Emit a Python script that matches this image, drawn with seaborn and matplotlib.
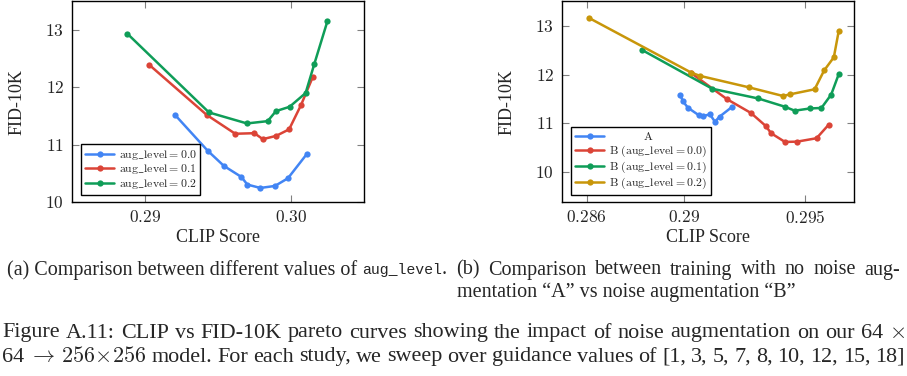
import matplotlib
matplotlib.use("Agg")
import pandas as pd
import seaborn as sns
from matplotlib import pyplot as plt

sns.set_style("ticks")
plt.rcParams['font.family'] = ['Liberation Serif', 'DejaVu Serif']
plt.rcParams['mathtext.fontset'] = 'cm'

# (a) different aug_level values
clip_a00 = [0.29205, 0.29427, 0.29538, 0.29658, 0.29699, 0.29788, 0.29888, 0.29977, 0.30107]
fid_a00 = [11.515, 10.895, 10.63, 10.437, 10.304, 10.245, 10.28, 10.414, 10.839]
clip_a01 = [0.29026, 0.2942, 0.29616, 0.29747, 0.29805, 0.29896, 0.29985, 0.30067, 0.30147]
fid_a01 = [12.394, 11.52, 11.19, 11.20, 11.096, 11.153, 11.267, 11.693, 12.18]
clip_a02 = [0.28877, 0.29436, 0.29696, 0.29838, 0.29895, 0.29988, 0.30098, 0.30158, 0.30247]
fid_a02 = [12.935, 11.562, 11.37, 11.41, 11.585, 11.66, 11.90, 12.41, 13.15]
labels_a = [r'$\mathrm{aug\_level} = 0.0$', r'$\mathrm{aug\_level} = 0.1$', r'$\mathrm{aug\_level} = 0.2$']

# (b) no noise aug "A" vs noise aug "B"
clip_A = [0.28985, 0.28996, 0.29017, 0.29063, 0.29078, 0.29107, 0.29128, 0.29147, 0.29198]
fid_A = [11.588, 11.453, 11.32, 11.162, 11.146, 11.187, 11.033, 11.138, 11.336]
clip_B00 = [0.29028, 0.29178, 0.29276, 0.29337, 0.29359, 0.29416, 0.29466, 0.29546, 0.29596]
fid_B00 = [12.038, 11.494, 11.213, 10.947, 10.798, 10.62, 10.626, 10.696, 10.974]
clip_B01 = [0.28828, 0.29117, 0.29306, 0.29415, 0.29456, 0.29518, 0.29566, 0.29606, 0.29637]
fid_B01 = [12.503, 11.709, 11.51, 11.342, 11.26, 11.305, 11.316, 11.588, 12.005]
clip_B02 = [0.28608, 0.29031, 0.29068, 0.29267, 0.29408, 0.29438, 0.29538, 0.29577, 0.29617, 0.29637]
fid_B02 = [13.164, 12.038, 11.971, 11.739, 11.561, 11.596, 11.698, 12.083, 12.353, 12.887]
labels_b = [r'$\quad\quad\quad\ \mathrm{A}$', r'$\mathrm{B\ (aug\_level} = 0.0)$',
            r'$\mathrm{B\ (aug\_level} = 0.1)$', r'$\mathrm{B\ (aug\_level} = 0.2)$']

xticks_a = [0.29, 0.30]
xticklabels_a = ['0.29', '0.30']
xticks_b = [0.286, 0.29, 0.295]
xticklabels_b = ['0.286', '0.29', '0.295']
yticks = [10, 11, 12, 13]

colors_a = ['#4285F4', '#DB4437', '#0F9D58']
colors_b = ['#4285F4', '#DB4437', '#0F9D58', '#C8960A']


def make_df(xs, ys, names):
    rows = []
    for x, y, n in zip(xs, ys, names):
        for xv, yv in zip(x, y):
            rows.append({'CLIP Score': xv, 'FID-10K': yv, 'run': n})
    return pd.DataFrame(rows)


df_a = make_df([clip_a00, clip_a01, clip_a02], [fid_a00, fid_a01, fid_a02], labels_a)
df_b = make_df([clip_A, clip_B00, clip_B01, clip_B02], [fid_A, fid_B00, fid_B01, fid_B02], labels_b)

fig = plt.figure(figsize=(9.07, 3.76), dpi=100)
W, H = 907, 376
ax1 = fig.add_axes([72.3 / W, 1 - 202 / H, 292 / W, 200.7 / H])
ax2 = fig.add_axes([562.3 / W, 1 - 202 / H, 291.7 / W, 200.7 / H])


def draw(ax, df, names, colors, xlim, ylim, xt, xtl):
    sns.lineplot(data=df, x='CLIP Score', y='FID-10K', hue='run', hue_order=names,
                 palette=colors, marker='o', markersize=4.5, markeredgewidth=0,
                 linewidth=1.8, sort=False, estimator=None, ax=ax)
    ax.set_xlim(*xlim)
    ax.set_ylim(*ylim)
    ax.set_xticks(xt, labels=['$%s$' % s for s in xtl])
    ax.set_yticks(yticks, labels=['$%d$' % v for v in yticks])
    ax.tick_params(direction='in', length=5, width=0.8, color='gray',
                   top=True, right=True, labelsize=12.5, pad=6)
    for s in ax.spines.values():
        s.set_linewidth(1.0)
        s.set_color('black')
    ax.set_xlabel('CLIP Score', fontsize=13)
    ax.set_ylabel('FID-10K', fontsize=13)
    ax.xaxis.label.set_va('center')
    ax.yaxis.label.set_va('center')
    ax.yaxis.label.set_ha('center')
    ax.xaxis.set_label_coords(0.5, -35 / 200.7)
    ax.yaxis.set_label_coords(-55 / 292, 0.5)
    h, l = ax.get_legend_handles_labels()
    leg = ax.legend(h, l, loc='lower left', bbox_to_anchor=(0.031, 0.035),
                    borderaxespad=0, fontsize=8.5, handlelength=2.4,
                    labelspacing=0.05, frameon=True, fancybox=False,
                    edgecolor='black', framealpha=1, borderpad=0.35,
                    handletextpad=0.4)
    leg.get_frame().set_linewidth(1.0)


draw(ax1, df_a, labels_a, colors_a, (0.285, 0.305), (10, 13.5), xticks_a, xticklabels_a)
draw(ax2, df_b, labels_b, colors_b, (0.285, 0.297), (9.39, 13.5), xticks_b, xticklabels_b)

# captions
sub = 14.5
main = 15.9
fig.canvas.draw()
r = fig.canvas.get_renderer()


def justify(words, x0, x1, ypix, size):
    # place words so the line runs from x0 to x1 (pixels), like justified LaTeX text
    ts = [fig.text(0, 1 - ypix / H, w, fontsize=size, va='center') for w in words]
    widths = [t.get_window_extent(r).width for t in ts]
    gap = (x1 - x0 - sum(widths)) / (len(ts) - 1)
    x = x0
    for t, w in zip(ts, widths):
        t.set_x(x / W)
        x += w + gap


y1 = 1 - 270 / H
t = fig.text(7 / W, y1, '(a) Comparison between different values of ', fontsize=sub, va='center')
x = t.get_window_extent(r).x1 / W
t = fig.text(x, y1, 'aug_level', fontsize=sub * 0.74, va='center', family='Liberation Mono')
x = t.get_window_extent(r).x1 / W
fig.text(x, y1, '.', fontsize=sub, va='center')

justify('(b) Comparison between training with no noise aug-'.split(' '), 456, 900, 270, sub)
fig.text(457 / W, 1 - 292 / H, 'mentation \u201cA\u201d vs noise augmentation \u201cB\u201d', fontsize=sub, va='center')
justify('Figure A.11: CLIP vs FID-10K pareto curves showing the impact of noise augmentation on our 64'.split(' ')
        + [r'$\times$'], 2, 905, 333, main)
justify(['64', r'$\rightarrow$', r'$256\!\times\!256$']
        + 'model. For each study, we sweep over guidance values of [1, 3, 5, 7, 8, 10, 12, 15, 18]'.split(' '),
        2, 905, 357, main)

fig.savefig('out.png', dpi=100)
